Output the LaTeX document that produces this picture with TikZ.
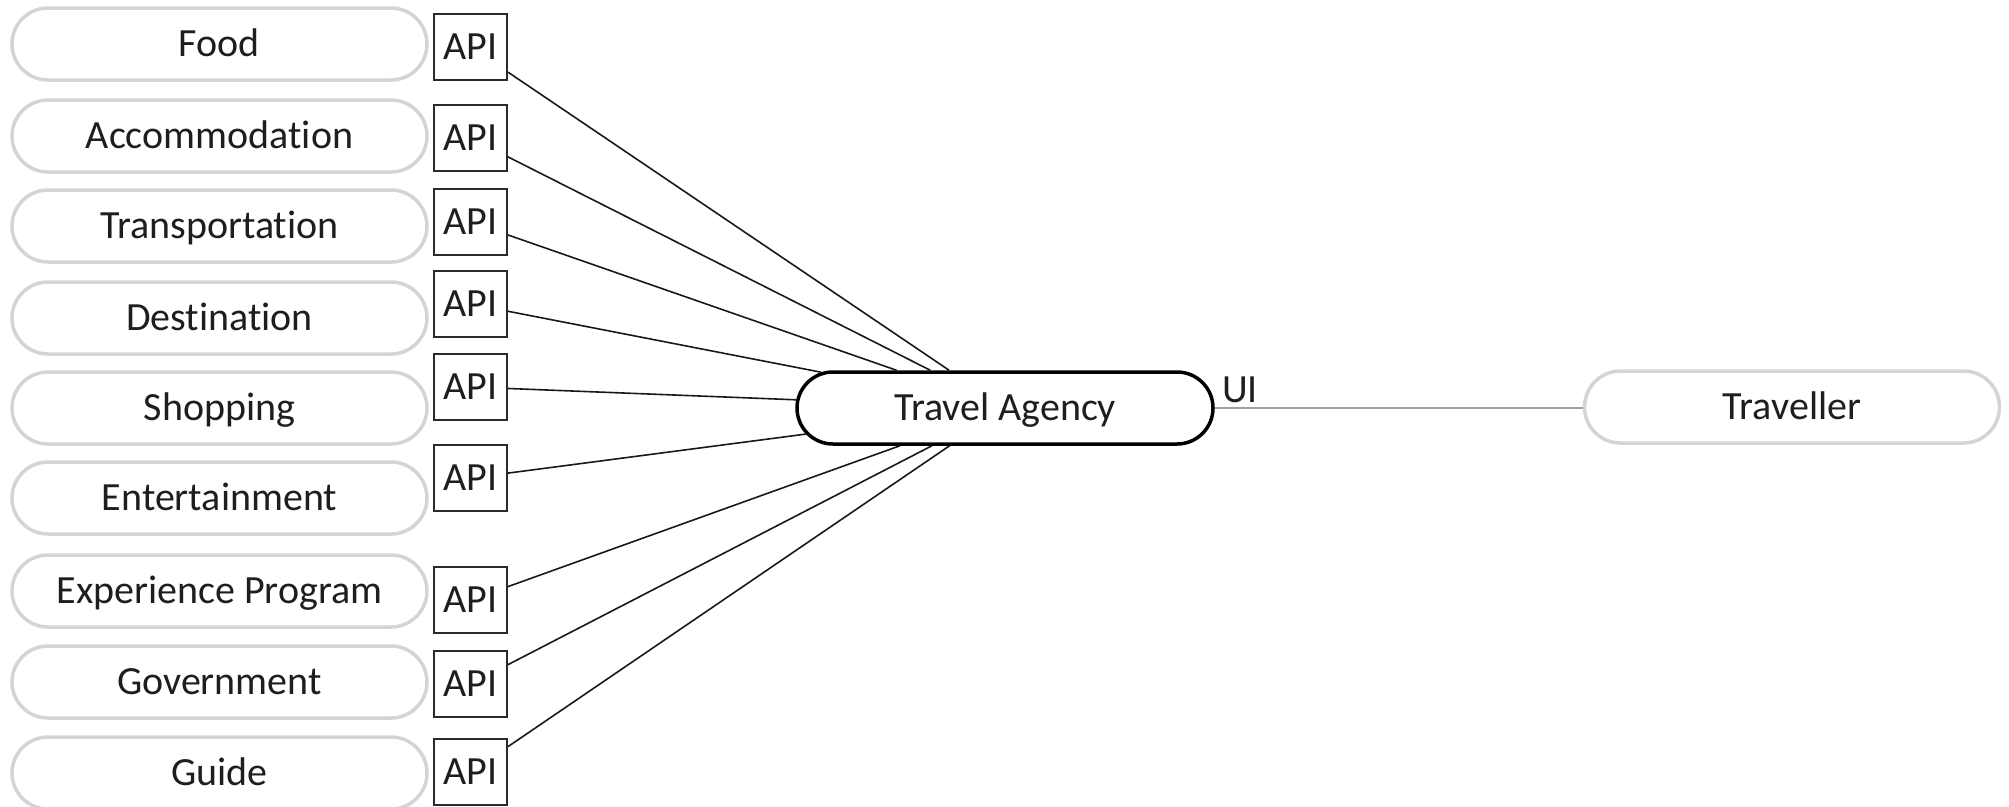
\documentclass[tikz,border=0pt]{standalone}
\usepackage{fontspec}
\setmainfont{Carlito}[Ligatures=NoCommon]
\usetikzlibrary{shapes.misc}
\definecolor{pillgray}{HTML}{D4D4D4}
\definecolor{textdark}{HTML}{1E1E1E}
\definecolor{boxdark}{HTML}{2A2A2A}
\definecolor{uigray}{HTML}{A0A0A0}
\begin{document}
\begin{tikzpicture}[x=1pt,y=-1pt,
  font=\fontsize{40}{48}\selectfont,
  every node/.style={text=textdark, inner sep=0pt, text height=25pt, text depth=0pt},
  party/.style={rounded rectangle, draw=pillgray, line width=3.5pt,
    minimum width=415pt, minimum height=72pt},
  hub/.style={rounded rectangle, draw=black, line width=3.5pt,
    minimum width=416pt, minimum height=72pt},
  apibox/.style={rectangle, draw=boxdark, line width=2pt,
    minimum width=73pt, minimum height=66pt},
  link/.style={draw=black!90, line width=1.6pt},
  uilink/.style={draw=uigray, line width=1.6pt}]
  \clip (0,0) rectangle (2009,806);

  % central agency and the traveller it serves
  \node[hub] (ta) at (1005,408) {Travel Agency};
  \node[party] (trav) at (1792,407) {Traveller};
  \draw[uilink] (ta.east) -- (ta.east -| trav.west);
  \node[anchor=base west] (ui) at (1222,402) {UI};

  % service providers, each exposing an API to the agency
  \foreach \txt/\py/\by [count=\i] in {
      Food/44/47, Accommodation/136/138, Transportation/226/222,
      Destination/318/304, Shopping/408/387, Entertainment/498/478,
      Experience Program/591/600, Government/682/684, Guide/773/772} {
    \node[party] (p\i) at (219.5,\py) {\txt};
    \node[apibox] (a\i) at (470.5,\by) {API};
    \draw[link] (a\i) -- (ta);
  }
\end{tikzpicture}
\end{document}
